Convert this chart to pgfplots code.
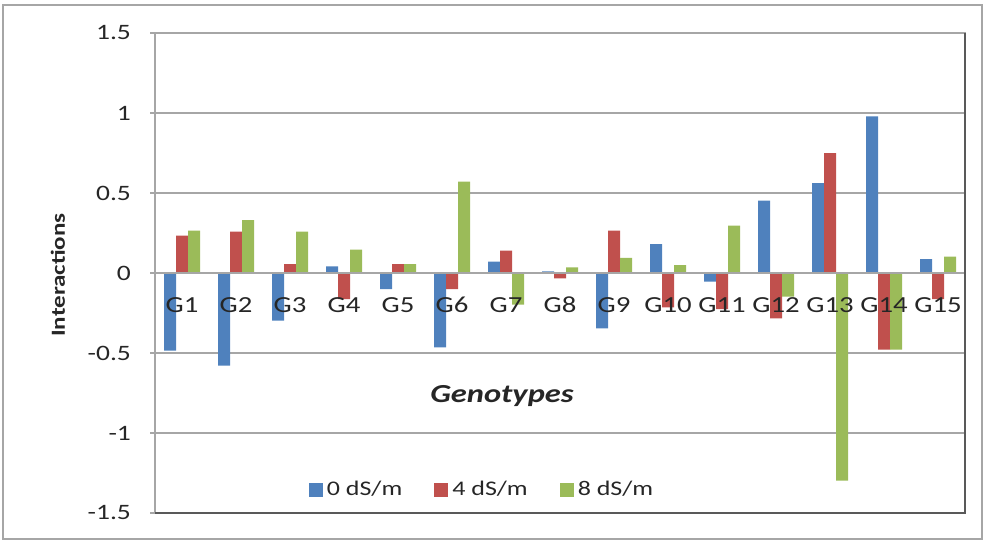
\documentclass[border=0pt]{standalone}
\usepackage{pgfplots}
\usepackage{pgfplotstable}
\pgfplotsset{compat=1.18}
\usepackage{fontspec}
\setmainfont{Carlito}[FakeStretch=1.25]
\definecolor{xblue}{HTML}{4F81BD}
\definecolor{xred}{HTML}{C0504D}
\definecolor{xgreen}{HTML}{9BBB59}
\definecolor{gridc}{HTML}{A6A6A6}
\definecolor{darkc}{HTML}{595959}
\definecolor{txt}{HTML}{262626}
\pgfplotsset{sqleg/.style={legend image code/.code={\fill[##1] (0pt,-3.5pt) rectangle (7pt,3.5pt);}}}
\pgfplotstableread{
x b r g
0 -0.485 0.233 0.265
1 -0.579 0.258 0.331
2 -0.298 0.056 0.258
3 0.042 -0.163 0.146
4 -0.100 0.056 0.056
5 -0.465 -0.100 0.571
6 0.071 0.140 -0.198
7 0.010 -0.033 0.035
8 -0.346 0.265 0.094
9 0.181 -0.215 0.050
10 -0.054 -0.225 0.296
11 0.452 -0.283 -0.148
12 0.5625 0.750 -1.298
13 0.979 -0.479 -0.479
14 0.0875 -0.163 0.102
}\data
\begin{document}
\begin{tikzpicture}
\useasboundingbox (-77.5pt,-13.5pt) rectangle (414pt,256.5pt);
\draw[gridc, line width=0.6pt] (-76pt,-13pt) rectangle (413.5pt,254pt);
\begin{axis}[
  at={(0,0)}, anchor=south west,
  scale only axis, width=405pt, height=240pt,
  ybar=0pt, bar width=6pt,
  xmin=-0.5, xmax=14.5, ymin=-1.5, ymax=1.5,
  xtick=\empty,
  ytick={-1.5,-1,-0.5,0,0.5,1,1.5},
  yticklabels={-1.5,-1,-0.5,0,0.5,1,1.5},
  ymajorgrids, grid style={gridc, line width=0.8pt},
  axis line style={gridc, line width=0.8pt},
  tick align=outside, major tick length=2.5pt, tick style={gridc, line width=0.6pt},
  ytick pos=left,
  yticklabel style={font=\fontsize{11}{13}\selectfont, color=txt, xshift=-6pt},
  /pgf/number format/assume math mode=true,
  legend columns=3,
  legend style={at={(0.405,0.048)}, anchor=center, draw=none, fill=none,
    font=\fontsize{10.4}{12}\selectfont, text=txt,
    /tikz/every even column/.append style={column sep=14pt}},
  sqleg,
]
\addplot[fill=xblue, draw=none] table[x=x, y=b] {\data};
\addplot[fill=xred, draw=none] table[x=x, y=r] {\data};
\addplot[fill=xgreen, draw=none] table[x=x, y=g] {\data};
\legend{0 dS/m, 4 dS/m, 8 dS/m}
\draw[gridc, line width=0.8pt] (rel axis cs:0,0.5) -- (rel axis cs:1,0.5);
\pgfplotsinvokeforeach{0,...,14}{
  \node[anchor=base, inner sep=0pt, text=txt, font=\fontsize{11.5}{14}\selectfont] at (axis cs:#1,0) [yshift=-19.75pt] {G\the\numexpr#1+1\relax};
}
\end{axis}
\draw[darkc, line width=0.8pt] (0,0) -- (405pt,0) -- (405pt,240pt);
\node[font=\bfseries\itshape\fontsize{13}{15}\selectfont, text=txt] at (173.5pt,58.5pt) {Genotypes};
\node[rotate=90, font=\bfseries\fontsize{10}{12}\selectfont, text=txt] at (-48.5pt,119pt) {Interactions};
\end{tikzpicture}
\end{document}
